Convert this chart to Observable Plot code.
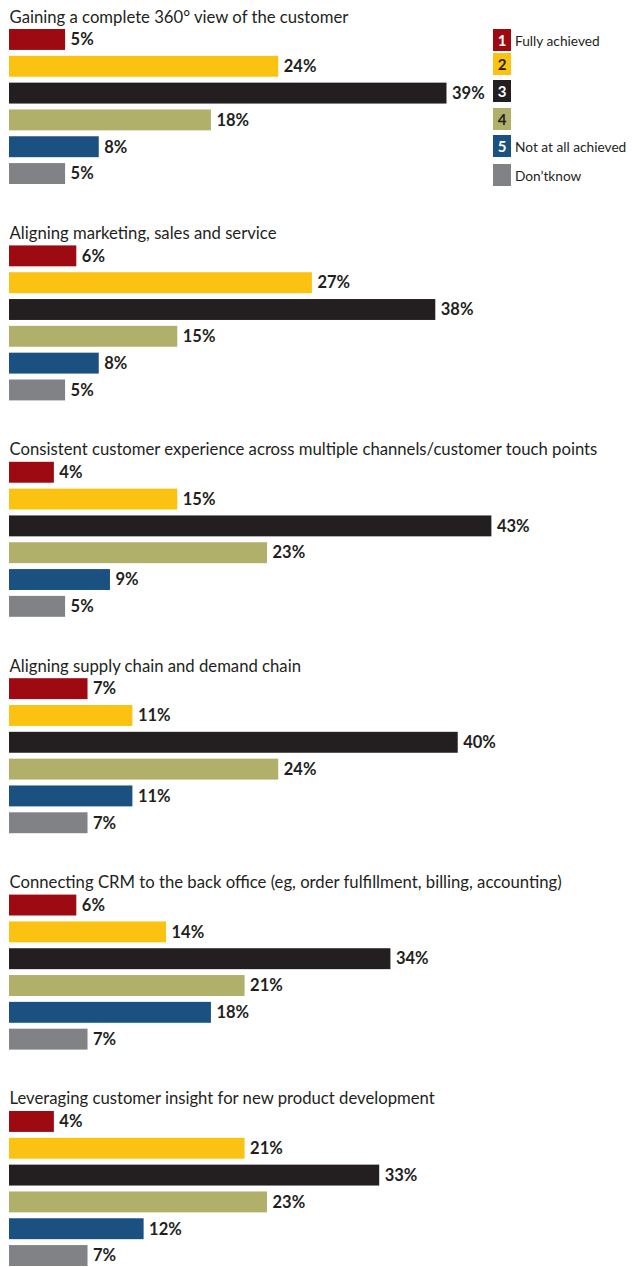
<!DOCTYPE html>
<html>
<head>
<meta charset="utf-8">
<script src="https://cdn.jsdelivr.net/npm/d3@7"></script>
<script src="https://cdn.jsdelivr.net/npm/@observablehq/plot@0.6"></script>
<style>
  html, body { margin: 0; padding: 0; background: #fff; }
  #wrap { position: relative; width: 632px; height: 1267px; }
  #legend { position: absolute; left: 493px; top: 29px; font-family: "Lato", sans-serif; font-size: 13.7px; color: #231f20; }
  .row { position: absolute; left: 0; height: 22px; display: flex; align-items: center; white-space: nowrap; }
  .sw { width: 18px; height: 22px; display: flex; align-items: center; justify-content: center; font-weight: bold; font-size: 15px; }
  .lab { margin-left: 4px; }
</style>
</head>
<body>
<div id="wrap"><div id="chart"></div><div id="legend"></div></div>
<script>
const groups = [
  "Gaining a complete 360° view of the customer",
  "Aligning marketing, sales and service",
  "Consistent customer experience across multiple channels/customer touch points",
  "Aligning supply chain and demand chain",
  "Connecting CRM to the back office (eg, order fulfillment, billing, accounting)",
  "Leveraging customer insight for new product development"
];
const categories = ["1", "2", "3", "4", "5", "Don’tknow"];
const legendLabels = ["Fully achieved", "", "", "", "Not at all achieved", "Don’tknow"];
const legendNumbers = ["1", "2", "3", "4", "5", ""];
const colors = ["#9e0a12", "#fcc212", "#231f20", "#b0b06a", "#1b5180", "#808285"];
const numberColors = ["#fff", "#231f20", "#fff", "#231f20", "#fff", "#fff"];

const view360 = [5, 24, 39, 18, 8, 5];
const alignMarketing = [6, 27, 38, 15, 8, 5];
const consistentExperience = [4, 15, 43, 23, 9, 5];
const supplyDemand = [7, 11, 40, 24, 11, 7];
const crmBackOffice = [6, 14, 34, 21, 18, 7];
const productInsight = [4, 21, 33, 23, 12, 7];
const seriesValues = [view360, alignMarketing, consistentExperience, supplyDemand, crmBackOffice, productInsight];

const data = groups.flatMap((g, i) => categories.map((c, j) => ({group: g, cat: c, value: seriesValues[i][j]})));

const chart = Plot.plot({
  width: 632,
  height: 1267,
  marginTop: 29,
  marginBottom: 1,
  marginLeft: 9,
  marginRight: 6,
  style: {fontFamily: "Lato, sans-serif", color: "#231f20", background: "#fff"},
  x: {domain: [0, 55], axis: null},
  y: {domain: categories, paddingInner: 0.22, paddingOuter: 0, round: false, axis: null},
  fy: {domain: groups, paddingInner: 0.2837, paddingOuter: 0, round: false, axis: null},
  color: {domain: categories, range: colors},
  marks: [
    Plot.barX(data, {x: "value", y: "cat", fy: "group", fill: "cat"}),
    Plot.text(data, {x: "value", y: "cat", fy: "group", text: d => d.value + "%", textAnchor: "start", dx: 5, fontWeight: "bold", fontSize: 16.5, fill: "#231f20"}),
    Plot.text(groups, {fy: d => d, text: d => d, frameAnchor: "top-left", lineAnchor: "bottom", dy: -7, fontSize: 16.7, fill: "#231f20"})
  ]
});
document.getElementById("chart").appendChild(chart);

const legend = document.getElementById("legend");
const legendTops = [0, 24, 51, 79, 106, 135];
categories.forEach((c, i) => {
  const row = document.createElement("div");
  row.className = "row";
  row.style.top = legendTops[i] + "px";
  const sw = document.createElement("div");
  sw.className = "sw";
  sw.style.background = colors[i];
  sw.style.color = numberColors[i];
  sw.textContent = legendNumbers[i];
  row.appendChild(sw);
  if (legendLabels[i]) {
    const lab = document.createElement("span");
    lab.className = "lab";
    lab.textContent = legendLabels[i];
    row.appendChild(lab);
  }
  legend.appendChild(row);
});
</script>
</body>
</html>
